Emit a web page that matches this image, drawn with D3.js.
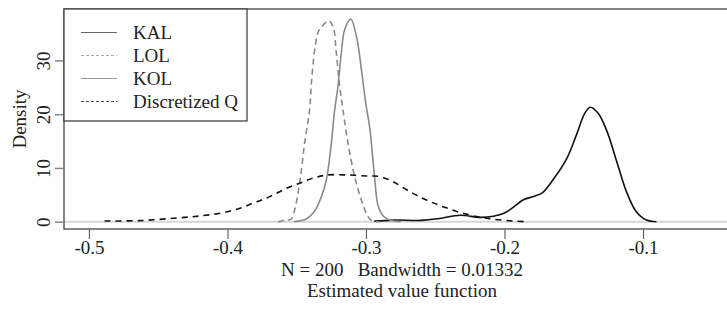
<!DOCTYPE html>
<html>
<head>
<meta charset="utf-8">
<script src="https://cdn.jsdelivr.net/npm/d3@7"></script>
</head>
<body style="margin:0">
<svg id="plot"></svg>
<script>
// density curves: [value, density]
var kal = [[-0.294,0.1],[-0.28,0.3],[-0.26,0.25],[-0.247,0.6],[-0.232,1.2],[-0.218,0.8],[-0.208,1.0],
  [-0.2,1.6],[-0.194,2.6],[-0.187,4.0],[-0.179,4.7],[-0.173,5.3],[-0.165,7.8],[-0.155,11.8],
  [-0.148,16.2],[-0.142,20.2],[-0.138,21.3],[-0.1325,20.2],[-0.126,16.8],[-0.119,11.2],
  [-0.112,5.6],[-0.105,1.9],[-0.0975,0.3],[-0.0903,0.0]];
var lol = [[-0.3635,0],[-0.3575,0.3],[-0.3539,0.5],[-0.3515,2.2],[-0.3479,7.2],[-0.3443,14.6],[-0.3407,20.8],
  [-0.3394,25.8],[-0.337,32],[-0.3346,35.2],[-0.3322,36.2],[-0.327,37.4],[-0.3238,36.3],
  [-0.3214,31.4],[-0.319,25.2],[-0.3166,20.8],[-0.313,14.6],[-0.3082,8.4],[-0.3033,4.0],
  [-0.2985,0.93],[-0.2949,0.1],[-0.29,0]];
var kol = [[-0.352,0],[-0.349,0.1],[-0.343,0.5],[-0.337,2.0],[-0.3322,4.66],[-0.3286,7.8],[-0.325,14.6],
  [-0.3226,20.8],[-0.3202,25.2],[-0.3178,31.4],[-0.3154,35.7],[-0.311,37.7],[-0.3069,34.5],
  [-0.3033,28.3],[-0.3002,22.1],[-0.2973,17.5],[-0.2937,8.0],[-0.2913,3.0],[-0.2877,1.1],
  [-0.2829,0.3],[-0.275,0]];
var discQ = [[-0.4887,0.13],[-0.4634,0.2],[-0.4393,0.63],[-0.42,1.06],[-0.4032,1.68],[-0.391,2.5],
  [-0.379,3.7],[-0.3695,4.66],[-0.3575,6.2],[-0.3479,7.15],[-0.3383,8.1],[-0.3274,8.7],
  [-0.3142,8.7],[-0.2997,8.5],[-0.2901,8.4],[-0.2805,7.45],[-0.2684,5.6],[-0.2564,4.04],
  [-0.2444,2.8],[-0.23,1.56],[-0.2131,0.63],[-0.1939,0.13],[-0.1842,0]];

var seriesNames = ['KAL', 'LOL', 'KOL', 'Discretized Q'];
var xTicks = [-0.5, -0.4, -0.3, -0.2, -0.1];
var yTicks = [0, 10, 20, 30];
var xLabel = 'N = 200   Bandwidth = 0.01332';
var subLabel = 'Estimated value function';
var yLabel = 'Density';

var w = 727, h = 310;
var mLeft = 64, mRight = 740, mTop = 9, mBottom = 229;
var fam = "'Liberation Serif'";
var fs = '19px';

var svg = d3.select('#plot').attr('width', w).attr('height', h)
  .style('display', 'block')
  .attr('font-family', 'Liberation Serif').style('font-family', fam);

function serif(sel) {
  sel.attr('font-family', 'Liberation Serif').attr('font-size', 19)
    .style('font-family', fam).style('font-size', fs).attr('fill', '#222');
}

var xs = d3.scaleLinear().domain([-0.518, -0.030]).range([mLeft, mRight]);
var ys = d3.scaleLinear().domain([-1.36, 39.57]).range([mBottom, mTop]);

// zero line
svg.append('line')
  .attr('x1', mLeft).attr('x2', mRight)
  .attr('y1', ys(0)).attr('y2', ys(0))
  .attr('stroke', '#d6d6d6').attr('stroke-width', 2);

var line = d3.line()
  .x(function(d) { return xs(d[0]); })
  .y(function(d) { return ys(d[1]); })
  .curve(d3.curveCatmullRom.alpha(0.5));

var styles = [
  {data: kal, color: '#111', dash: null},
  {data: lol, color: '#8a8a8a', dash: '6,4'},
  {data: kol, color: '#8a8a8a', dash: null},
  {data: discQ, color: '#111', dash: '6,5'}
];

svg.append('g').selectAll('path')
  .data(styles)
  .enter()
  .append('path')
  .attr('d', function(d) { return line(d.data); })
  .attr('fill', 'none')
  .attr('stroke', function(d) { return d.color; })
  .attr('stroke-width', 1.6)
  .attr('stroke-dasharray', function(d) { return d.dash; });

// frame
svg.append('rect')
  .attr('x', mLeft).attr('y', mTop)
  .attr('width', mRight - mLeft).attr('height', mBottom - mTop)
  .attr('fill', 'none').attr('stroke', '#444').attr('stroke-width', 1.3);

// R style labels use a plain hyphen
var fmtX = function(d) { return d3.format('.1f')(d).replace('\u2212', '-'); };

// axes
var xAxis = svg.append('g')
  .attr('transform', 'translate(0,' + mBottom + ')')
  .call(d3.axisBottom(xs).tickValues(xTicks).tickSize(10).tickPadding(2).tickFormat(fmtX));
xAxis.attr('font-family', 'Liberation Serif').attr('font-size', 19);
xAxis.select('.domain').remove();
xAxis.selectAll('line').attr('stroke', '#666').attr('stroke-width', 1.2);
xAxis.selectAll('text').call(serif);

var yAxis = svg.append('g')
  .attr('transform', 'translate(' + mLeft + ',0)')
  .call(d3.axisLeft(ys).tickValues(yTicks).tickSize(9).tickFormat(d3.format('d')));
yAxis.attr('font-family', 'Liberation Serif').attr('font-size', 19);
yAxis.select('.domain').remove();
yAxis.selectAll('line').attr('stroke', '#888').attr('stroke-width', 1.5);
yAxis.selectAll('text')
  .attr('x', null).attr('dy', null)
  .attr('transform', 'translate(-14,0) rotate(-90)')
  .attr('text-anchor', 'middle')
  .attr('y', 0)
  .call(serif);

// axis labels
var midX = (mLeft + mRight) / 2;
svg.append('text')
  .attr('x', midX).attr('y', 276)
  .attr('text-anchor', 'middle')
  .attr('xml:space', 'preserve')
  .call(serif)
  .text(xLabel);

svg.append('text')
  .attr('x', midX).attr('y', 297)
  .attr('text-anchor', 'middle')
  .call(serif)
  .text(subLabel);

svg.append('text')
  .attr('transform', 'translate(26,' + ((mTop + mBottom) / 2) + ') rotate(-90)')
  .attr('text-anchor', 'middle')
  .call(serif)
  .text(yLabel);

// legend
var lg = svg.append('g');
lg.append('rect')
  .attr('x', mLeft).attr('y', mTop).attr('width', 183).attr('height', 112)
  .attr('fill', '#fff').attr('stroke', '#444').attr('stroke-width', 1.3);

var legendStyles = [
  {color: '#666', dash: null},
  {color: '#aaa', dash: '3,2'},
  {color: '#999', dash: null},
  {color: '#444', dash: '3,2'}
];

var rows = lg.selectAll('g.row')
  .data(seriesNames)
  .enter()
  .append('g')
  .attr('transform', function(d, i) { return 'translate(0,' + (32.5 + i * 23) + ')'; });

rows.append('line')
  .attr('x1', 81).attr('x2', 117)
  .attr('stroke', function(d, i) { return legendStyles[i].color; })
  .attr('stroke-width', 1)
  .attr('stroke-dasharray', function(d, i) { return legendStyles[i].dash; });

rows.append('text')
  .attr('x', 133).attr('dy', '0.33em')
  .call(serif)
  .text(function(d) { return d; });
</script>
</body>
</html>
